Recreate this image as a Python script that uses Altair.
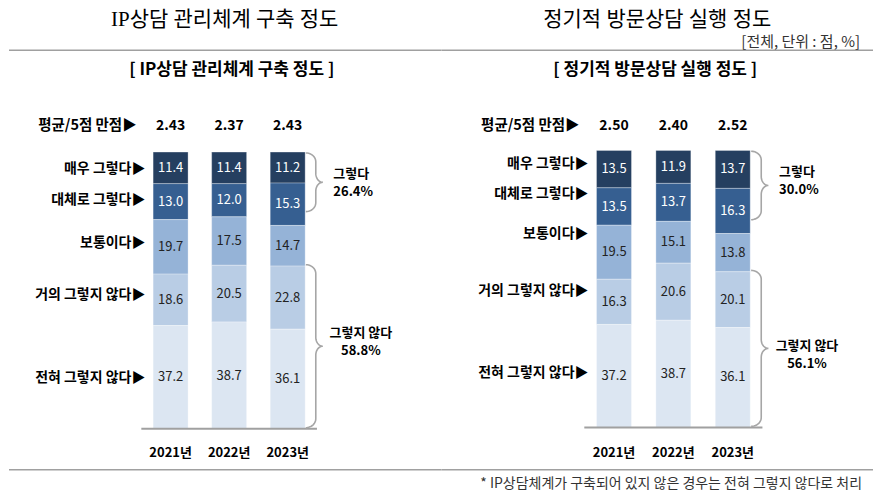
import altair as alt
import numpy as np
import pandas as pd

# ---------------- data ----------------
years = ["2021년", "2022년", "2023년"]
categories = ["매우 그렇다", "대체로 그렇다", "보통이다", "거의 그렇지 않다", "전혀 그렇지 않다"]

left_title = "IP상담 관리체계 구축 정도"
left_subtitle = "[ IP상담 관리체계 구축 정도 ]"
left_avg = [2.43, 2.37, 2.43]
left_very = [11.4, 11.4, 11.2]
left_mostly = [13.0, 12.0, 15.3]
left_neutral = [19.7, 17.5, 14.7]
left_rarely = [18.6, 20.5, 22.8]
left_never = [37.2, 38.7, 36.1]
left_yes_total = "26.4%"
left_no_total = "58.8%"

right_title = "정기적 방문상담 실행 정도"
right_subtitle = "[ 정기적 방문상담 실행 정도 ]"
right_avg = [2.50, 2.40, 2.52]
right_very = [13.5, 11.9, 13.7]
right_mostly = [13.5, 13.7, 16.3]
right_neutral = [19.5, 15.1, 13.8]
right_rarely = [16.3, 20.6, 20.1]
right_never = [37.2, 38.7, 36.1]
right_yes_total = "30.0%"
right_no_total = "56.1%"

avg_label = "평균/5점 만점▶"
yes_label = "그렇다"
no_label = "그렇지 않다"
unit_note = "[전체, 단위 : 점, %]"
footnote = "* IP상담체계가 구축되어 있지 않은 경우는 전혀 그렇지 않다로 처리"

# ---------------- style / layout ----------------
FONT = "Noto Sans CJK KR"
TITLE_FONT = "'Liberation Serif', 'Noto Sans CJK KR', serif"
seg_colors = ["#253F60", "#365F91", "#95B3D7", "#B9CDE5", "#DCE6F2"]
seg_text = ["#FFFFFF", "#FFFFFF", "#222222", "#222222", "#222222"]
GREY = "#A6A6A6"
PW, PH = 433, 478

left_geo = dict(xdom=[-2.675, 4.542], ydom=[-51.62, 120.94],
                cat_py=[160, 191, 234, 286, 369.5], avg_py=117, year_py=444,
                yes_dy=(-8, 10), no_dy=(-13, 5), sub_x=223)
right_geo = dict(xdom=[-2.821, 4.295], ydom=[-50.94, 121.38],
                 cat_py=[155, 184.5, 224.5, 282, 364.5], avg_py=117, year_py=444,
                 yes_dy=(-13, 5), no_dy=(-2, 16), sub_x=214)


def py2d(py, geo):
    d0, d1 = geo["ydom"]
    return d0 + py / PH * (d1 - d0)


def brace_pts(yt, yb, name):
    xe, xm, xt = 2.31, 2.48, 2.60
    r = 3.2
    ym = (yt + yb) / 2
    t = np.linspace(0, np.pi / 2, 12)
    xs, ys = [], []
    xs += list(xe + (xm - xe) * np.sin(t)); ys += list(yt + r - r * np.cos(t))
    xs += list(xt - (xt - xm) * np.cos(t)); ys += list(ym - r + r * np.sin(t))
    xs += list(xt - (xt - xm) * np.sin(t)); ys += list(ym + r - r * np.cos(t))
    xs += list(xe + (xm - xe) * np.cos(t)); ys += list(yb - r + r * np.sin(t))
    return pd.DataFrame({"bx": xs, "by": ys, "o": range(len(xs)), "b": name}), ym


def text_layer(df, x, y, size, weight="normal", align="center", dy=0, color="#000000", font=FONT):
    return alt.Chart(df).mark_text(font=font, fontSize=size, fontWeight=weight, align=align,
                                   dy=dy, color=color).encode(x=x, y=y, text="t:N")


def panel(series, avgs, title, subtitle, yes_total, no_total, geo, right_side):
    rows = []
    for j, yr in enumerate(years):
        cum = 0.0
        for i, cat in enumerate(categories):
            v = series[i][j]
            rows.append(dict(xi=j, cat=cat, v=v, y0=cum, y1=cum + v, ym=cum + v / 2,
                             col=seg_colors[i], tc=seg_text[i]))
            cum += v
    df = pd.DataFrame(rows)
    xs = alt.Scale(domain=geo["xdom"], nice=False, zero=False)
    ys = alt.Scale(domain=geo["ydom"], nice=False, zero=False, reverse=True)

    def X(f):
        return alt.X(f, type="quantitative", scale=xs, axis=None)

    def Y(f):
        return alt.Y(f, type="quantitative", scale=ys, axis=None)

    bars = alt.Chart(df).mark_bar(size=35, stroke="#FFFFFF", strokeWidth=0.6, strokeOpacity=0.5).encode(
        x=X("xi"), y=Y("y0"), y2="y1", color=alt.Color("col:N", scale=None))
    vals = alt.Chart(df).mark_text(font=FONT, fontSize=13).encode(
        x=X("xi"), y=Y("ym"), text=alt.Text("v:Q", format=".1f"),
        color=alt.Color("tc:N", scale=None))

    cat_df = pd.DataFrame({"t": [c + "▶" for c in categories],
                           "cy": [py2d(p, geo) for p in geo["cat_py"]], "cx": -0.43})
    cats = text_layer(cat_df, X("cx"), Y("cy"), 14, "bold", "right")

    avg_df = pd.DataFrame({"xi": [0, 1, 2], "a": avgs, "ay": py2d(geo["avg_py"], geo)})
    avg_t = alt.Chart(avg_df).mark_text(font=FONT, fontSize=14, fontWeight="bold", color="#000000").encode(
        x=X("xi"), y=Y("ay"), text=alt.Text("a:Q", format=".2f"))
    avg_l = text_layer(pd.DataFrame({"t": [avg_label], "lx": [-0.58], "ay": [py2d(geo["avg_py"], geo)]}),
                       X("lx"), Y("ay"), 14.5, "bold", "right")

    yr_df = pd.DataFrame({"xi": [0, 1, 2], "t": years, "yy": py2d(geo["year_py"], geo)})
    yrs = text_layer(yr_df, X("xi"), Y("yy"), 13, "bold")

    base_df = pd.DataFrame({"x0": [-0.5], "x1": [2.5], "yb": [100.0]})
    baseline = alt.Chart(base_df).mark_rule(color="#A0A0A0", strokeWidth=2).encode(
        x=X("x0"), x2="x1", y=Y("yb"))

    # braces beside the 2023 bar
    last = [s[2] for s in series]
    top_end = last[0] + last[1] - 5.0
    bot_start = last[0] + last[1] + last[2] - 0.5
    b1, m1 = brace_pts(0.3, top_end, "yes")
    b2, m2 = brace_pts(bot_start, 99.6, "no")
    bdf = pd.concat([b1, b2], ignore_index=True)
    braces = alt.Chart(bdf).mark_line(color=GREY, strokeWidth=1.6).encode(
        x=X("bx"), y=Y("by"), order="o:Q", detail="b:N")

    yl1 = text_layer(pd.DataFrame({"t": [yes_label], "tx": [2.78], "ty": [m1]}), X("tx"), Y("ty"),
                     13, "bold", "left", geo["yes_dy"][0])
    yl2 = text_layer(pd.DataFrame({"t": [yes_total], "tx": [2.78], "ty": [m1]}), X("tx"), Y("ty"),
                     13, "bold", "left", geo["yes_dy"][1])
    nl1 = text_layer(pd.DataFrame({"t": [no_label], "tx": [3.25], "ty": [m2]}), X("tx"), Y("ty"),
                     13, "bold", "center", geo["no_dy"][0])
    nl2 = text_layer(pd.DataFrame({"t": [no_total], "tx": [3.25], "ty": [m2]}), X("tx"), Y("ty"),
                     13, "bold", "center", geo["no_dy"][1])

    ttl = text_layer(pd.DataFrame({"t": [title]}), alt.value(216), alt.value(10.5), 21, font=TITLE_FONT)
    sub = text_layer(pd.DataFrame({"t": [subtitle]}), alt.value(geo["sub_x"]), alt.value(61), 17, "bold")
    x2 = PW if not right_side else PW - 1
    top_rule = alt.Chart(pd.DataFrame({"a": [0]})).mark_rule(color="#A0A0A0", strokeWidth=1.5).encode(
        x=alt.value(0), x2=alt.value(x2), y=alt.value(41))
    bot_rule = alt.Chart(pd.DataFrame({"a": [0]})).mark_rule(color="#A0A0A0", strokeWidth=1.5).encode(
        x=alt.value(0), x2=alt.value(x2), y=alt.value(461))

    layers = [bars, vals, cats, avg_l, avg_t, yrs, baseline, braces, yl1, yl2, nl1, nl2,
              ttl, sub, top_rule, bot_rule]
    if right_side:
        layers.append(text_layer(pd.DataFrame({"t": [unit_note]}), alt.value(419), alt.value(33),
                                 15, align="right", color="#333333"))
        layers.append(text_layer(pd.DataFrame({"t": [footnote]}), alt.value(421), alt.value(475),
                                 14, align="right", color="#333333"))
    return alt.layer(*layers).properties(width=PW, height=PH)


left_series = [left_very, left_mostly, left_neutral, left_rarely, left_never]
right_series = [right_very, right_mostly, right_neutral, right_rarely, right_never]

left = panel(left_series, left_avg, left_title, left_subtitle, left_yes_total, left_no_total, left_geo, False)
right = panel(right_series, right_avg, right_title, right_subtitle, right_yes_total, right_no_total, right_geo, True)

chart = alt.hconcat(left, right, spacing=0, bounds="flush").properties(
    padding={"left": 0, "top": 0, "right": 0, "bottom": 0},
    background="#FFFFFF",
).configure_view(stroke=None)

chart.save("out.html", embed_options={"renderer": "svg", "actions": False})
